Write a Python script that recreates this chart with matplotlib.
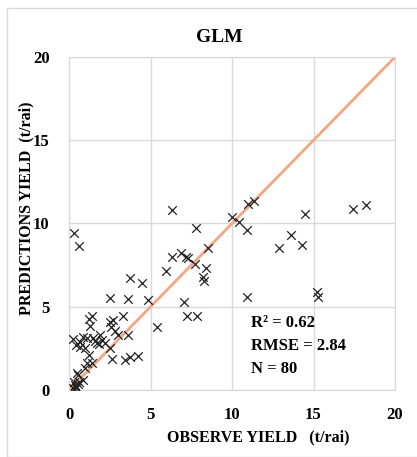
import matplotlib
matplotlib.use("Agg")
import matplotlib.pyplot as plt
from matplotlib.patches import Rectangle

observed = [0.3, 0.6, 6.3, 10.0, 10.4, 11.0, 11.35, 10.95, 14.5, 17.4, 18.2, 13.6, 12.9, 14.3, 10.9, 15.2, 15.3,
            7.8, 8.5, 6.3, 6.9, 7.2, 7.3, 7.7, 5.95, 8.4, 8.2, 8.3, 3.75, 4.5, 2.5, 3.6, 4.85, 7.05, 7.25, 7.85, 5.4,
            1.2, 1.4, 1.3, 2.5, 2.7, 3.3, 2.6, 2.8, 3.0, 3.6, 0.25, 0.85, 1.1, 0.45, 0.65, 1.5, 1.6, 1.9, 1.7, 1.85,
            2.2, 2.5, 1.2, 2.65, 3.45, 3.75, 4.25, 1.1, 1.4, 1.0, 0.5, 0.55, 0.85, 0.35, 0.45, 0.55, 0.25, 0.4,
            0.6, 0.7, 1.0, 2.0, 0.3]
predicted = [9.4, 8.65, 10.8, 10.4, 10.1, 11.2, 11.35, 9.6, 10.6, 10.9, 11.1, 9.3, 8.5, 8.7, 5.6, 5.9, 5.6,
             9.7, 8.5, 8.0, 8.2, 8.0, 7.9, 7.55, 7.15, 7.3, 6.8, 6.55, 6.7, 6.4, 5.5, 5.45, 5.4, 5.3, 4.45, 4.45, 3.8,
             4.25, 4.45, 3.85, 4.1, 4.2, 4.45, 3.8, 3.55, 3.3, 3.3, 3.05, 3.2, 3.1, 2.7, 2.6, 3.1, 2.95, 3.3, 2.8, 2.75,
             2.8, 2.5, 2.1, 1.85, 1.8, 2.0, 2.05, 1.6, 1.6, 1.3, 1.0, 0.9, 0.6, 0.3, 0.2, 0.35, 0.15, 0.15,
             0.5, 2.9, 2.5, 3.0, 0.5]
line_x = [0, 20]
line_y = [0, 20]
ticks = [0, 5, 10, 15, 20]
stats = ["R² = 0.62", "RMSE = 2.84", "N = 80"]

font = ["Liberation Serif", "DejaVu Serif"]

fig = plt.figure(figsize=(4.17, 4.57), dpi=100)
fig.patches.append(Rectangle((7/417, 0), 1, 1 - 8/457, transform=fig.transFigure,
                             fill=False, edgecolor="#d9d9d9", linewidth=1.0))
ax = fig.add_axes([69/417, 1 - 390/457, 326/417, 333/457])

ax.plot(line_x, line_y, color="#f4a582", linewidth=2.0, zorder=2)
ax.scatter(observed, predicted, marker="x", color="#222222", s=38, linewidths=0.9, zorder=3)

ax.set_xlim(0, 20)
ax.set_ylim(0, 20)
ax.set_xticks(ticks)
ax.set_yticks(ticks)
ax.grid(True, color="#d9d9d9", linewidth=1.0, zorder=0)
ax.set_axisbelow(True)
for s in ax.spines.values():
    s.set_color("#d9d9d9")
ax.tick_params(axis="x", length=0, pad=12)
ax.tick_params(axis="y", length=0, pad=14)
for lbl in ax.get_xticklabels() + ax.get_yticklabels():
    lbl.set_fontfamily(font)
    lbl.set_fontweight("bold")
    lbl.set_fontsize(12)

fig.text(219/417, 1 - 37/457, "GLM", ha="center", va="center", family=font,
         fontweight="bold", fontsize=14)
fig.text(258/417, 1 - 437/457, "OBSERVE YIELD   (t/rai)", ha="center", va="center",
         family=font, fontweight="bold", fontsize=11.5)
fig.text(26/417, 1 - 208/457, "PREDICTIONS YIELD  (t/rai)", ha="center", va="center",
         rotation=90, family=font, fontweight="bold", fontsize=11.5)

for i, t in enumerate(stats):
    fig.text(251/417, 1 - (323 + 23 * i)/457, t, ha="left", va="center",
             family=font, fontweight="bold", fontsize=12)

fig.savefig("out.png", dpi=100)
